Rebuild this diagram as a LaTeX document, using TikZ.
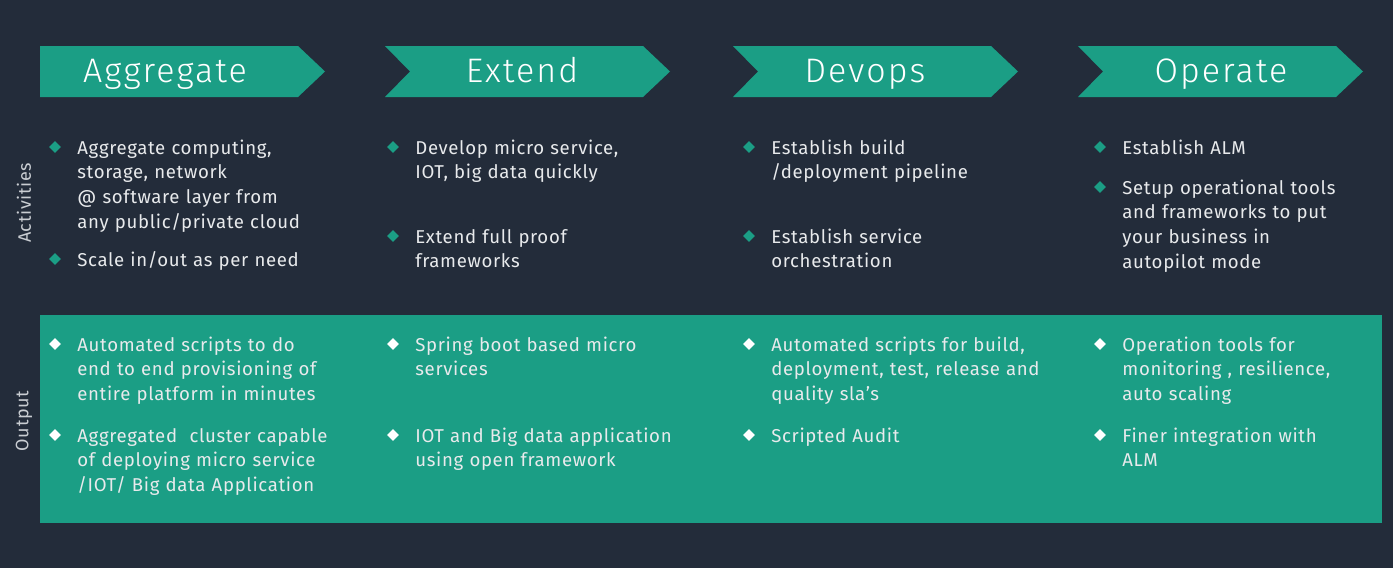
\documentclass[tikz,border=0pt]{standalone}
\usepackage{fontspec}
\setmainfont{Fira Sans}[LetterSpace=3.5]
\newfontfamily\headfont{Fira Sans Light}[LetterSpace=6]
\usetikzlibrary{shapes.geometric}
\definecolor{navy}{HTML}{232C3A}
\definecolor{jade}{HTML}{1B9E85}
\definecolor{paper}{HTML}{E8EAEC}
\definecolor{dim}{HTML}{C9CDD2}
\tikzset{
  head/.style={font=\headfont\fontsize{17}{20}\selectfont, text=white, inner sep=0pt},
  item/.style={font=\fontsize{9.3}{12.35}\selectfont, text=paper, align=left, text width=180pt, inner sep=0pt, anchor=base west},
  dot/.style={diamond, inner sep=0pt, minimum width=6pt, minimum height=6pt},
  side/.style={rotate=90, font=\fontsize{9}{10}\selectfont, text=dim, inner sep=0pt}
}
% name, x, baseline y, diamond colour, text
\newcommand{\bul}[5]{%
  \node[dot, fill=#4] (#1d) at (#2-22,#3-7) {};
  \node[item] (#1) at (#2,#3) {#5};
}
\begin{document}
\begin{tikzpicture}[x=0.5pt, y=-0.5pt]
  \useasboundingbox (0,0) rectangle (1393,568);
  \fill[navy] (0,0) rectangle (1393,568);
  % phase arrows
  \foreach \n/\l/\d/\c/\t in {agg/40/0/165/Aggregate, ext/385/25/522/Extend, dev/733/25/865/Devops, ope/1078/25/1221/Operate} {
    \fill[jade] (\l,46) -- (\l+258,46) -- (\l+285,71.5) -- (\l+258,97) -- (\l,97) -- (\l+\d,71.5) -- cycle;
    \node[head, anchor=base] (\n) at (\c,82) {\t};
  }
  % output band
  \fill[jade] (40,315) rectangle (1382,523);
  \node[side] (act) at (24,203) {Activities};
  \node[side] (out) at (24,421) {Output};

  % activities
  \bul{a1}{77}{154}{jade}{Aggregate computing,\\storage, network\\@ software layer from\\any public/private cloud}
  \bul{a2}{77}{266}{jade}{Scale in/out as per need}
  \bul{b1}{415}{154}{jade}{Develop micro service,\\IOT, big data quickly}
  \bul{b2}{415}{243}{jade}{Extend full proof\\frameworks}
  \bul{c1}{771}{154}{jade}{Establish build\\/deployment pipeline}
  \bul{c2}{771}{243}{jade}{Establish service\\orchestration}
  \bul{d1}{1122}{154}{jade}{Establish ALM}
  \bul{d2}{1122}{194}{jade}{Setup operational tools\\and frameworks to put\\your business in\\autopilot mode}

  % output
  \bul{p1}{77}{351}{white}{Automated scripts to do\\end to end provisioning of\\entire platform in minutes}
  \bul{p2}{77}{442}{white}{Aggregated\ \ cluster capable\\of deploying micro service\\/IOT/ Big data Application}
  \bul{q1}{415}{351}{white}{Spring boot based micro\\services}
  \bul{q2}{415}{442}{white}{IOT and Big data application\\using open framework}
  \bul{r1}{771}{351}{white}{Automated scripts for build,\\deployment, test, release and\\quality sla’s}
  \bul{r2}{771}{442}{white}{Scripted Audit}
  \bul{s1}{1122}{351}{white}{Operation tools for\\monitoring , resilience,\\auto scaling}
  \bul{s2}{1122}{442}{white}{Finer integration with\\ALM}
\end{tikzpicture}
\end{document}
